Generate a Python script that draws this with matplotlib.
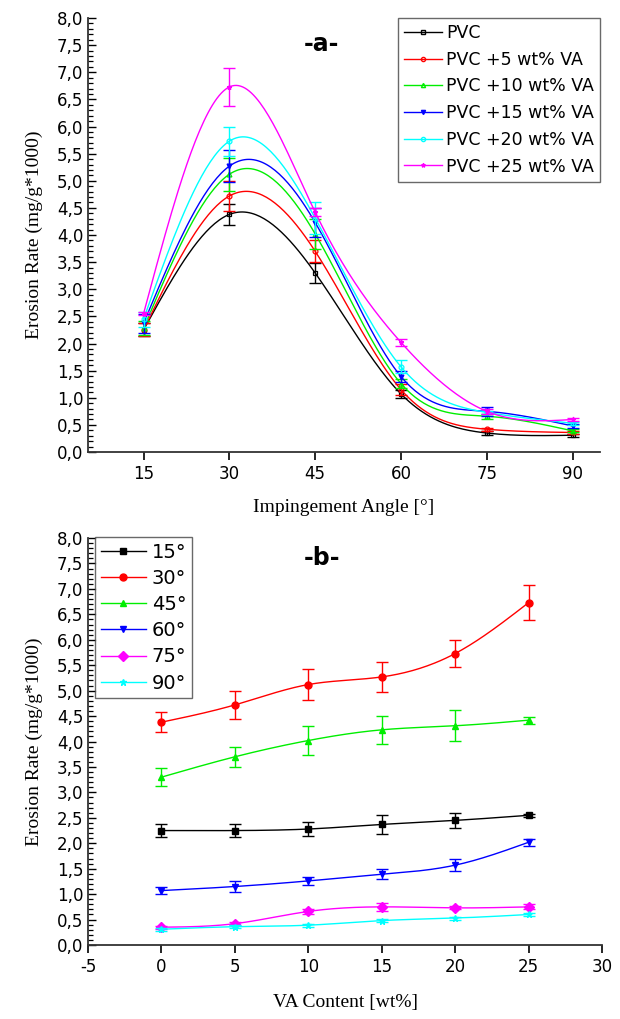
import numpy as np
import matplotlib
matplotlib.use("Agg")
import matplotlib.pyplot as plt
from matplotlib.ticker import MultipleLocator, FuncFormatter

plt.rcParams['axes.unicode_minus'] = False

# data
angles = [15, 30, 45, 60, 75, 90]
va_content = [0, 5, 10, 15, 20, 25]

# erosion rate per angle (rows) vs VA content (columns)
er_15 = [2.25, 2.25, 2.28, 2.37, 2.45, 2.55]
er_30 = [4.38, 4.72, 5.12, 5.27, 5.73, 6.73]
er_45 = [3.30, 3.70, 4.02, 4.23, 4.31, 4.42]
er_60 = [1.07, 1.15, 1.26, 1.39, 1.57, 2.02]
er_75 = [0.35, 0.42, 0.66, 0.75, 0.73, 0.75]
er_90 = [0.31, 0.36, 0.39, 0.48, 0.53, 0.60]

err_15 = [0.12, 0.12, 0.13, 0.18, 0.14, 0.03]
err_30 = [0.20, 0.27, 0.30, 0.30, 0.27, 0.35]
err_45 = [0.18, 0.20, 0.28, 0.27, 0.30, 0.07]
err_60 = [0.07, 0.10, 0.08, 0.10, 0.12, 0.07]
err_75 = [0.03, 0.03, 0.05, 0.08, 0.03, 0.05]
err_90 = [0.03, 0.03, 0.03, 0.03, 0.03, 0.03]

angle_labels = ['15°', '30°', '45°', '60°', '75°', '90°']
blend_labels = ['PVC', 'PVC +5 wt% VA', 'PVC +10 wt% VA', 'PVC +15 wt% VA',
                'PVC +20 wt% VA', 'PVC +25 wt% VA']
colors = ['black', 'red', '#00ee00', 'blue', 'magenta', 'cyan']
a_colors = ['black', 'red', '#00ee00', 'blue', 'cyan', 'magenta']

rates = np.array([er_15, er_30, er_45, er_60, er_75, er_90])
errs = np.array([err_15, err_30, err_45, err_60, err_75, err_90])


def spline(x, y, n=200):
    # natural cubic spline, like Origin's smooth connection
    x = np.asarray(x, float)
    y = np.asarray(y, float)
    k = len(x)
    h = np.diff(x)
    A = np.zeros((k, k))
    r = np.zeros(k)
    A[0, 0] = A[-1, -1] = 1
    for i in range(1, k - 1):
        A[i, i - 1] = h[i - 1]
        A[i, i] = 2 * (h[i - 1] + h[i])
        A[i, i + 1] = h[i]
        r[i] = 6 * ((y[i + 1] - y[i]) / h[i] - (y[i] - y[i - 1]) / h[i - 1])
    M = np.linalg.solve(A, r)
    xs = np.linspace(x[0], x[-1], n)
    idx = np.clip(np.searchsorted(x, xs) - 1, 0, k - 2)
    x0, x1 = x[idx], x[idx + 1]
    hh = x1 - x0
    t0 = x1 - xs
    t1 = xs - x0
    ys = (M[idx] * t0**3 + M[idx + 1] * t1**3) / (6 * hh) \
        + (y[idx] / hh - M[idx] * hh / 6) * t0 \
        + (y[idx + 1] / hh - M[idx + 1] * hh / 6) * t1
    return xs, ys


comma = FuncFormatter(lambda v, p: ('%.1f' % v).replace('.', ','))
serif = 'Liberation Serif'

fig = plt.figure(figsize=(6.2, 10.19), dpi=100)
ax1 = fig.add_axes([0.142, 0.5564, 0.826, 0.4259])
ax2 = fig.add_axes([0.142, 0.0726, 0.829, 0.3994])

# panel a: one curve per blend
a_markers = ['s', 'o', '^', 'v', 'o', '*']
a_fill = ['none', 'none', 'none', 'full', 'none', 'full']
for j in range(len(blend_labels)):
    col = a_colors[j]
    y = rates[:, j]
    e = errs[:, j]
    mfc = 'none' if a_fill[j] == 'none' else col
    xs, ys = spline(angles, y)
    ax1.plot(xs, ys, color=col, lw=1.0)
    ax1.errorbar(angles, y, yerr=e, fmt='none', ecolor=col, elinewidth=1.0,
                 capsize=4, capthick=1.0)
    ax1.plot(angles, y, ls='none', marker=a_markers[j], ms=3.5,
             color=col, mfc=mfc, mew=0.9)
    ax1.plot([], [], color=col, lw=1.0, marker=a_markers[j], ms=3,
             mfc=mfc, label=blend_labels[j])

ax1.set_xlim(5.3, 94.8)
ax1.set_ylim(0, 8)
ax1.set_xticks(angles)
ax1.yaxis.set_major_locator(MultipleLocator(0.5))
ax1.yaxis.set_minor_locator(MultipleLocator(0.1))
ax1.yaxis.set_major_formatter(comma)
ax1.set_xlabel('Impingement Angle [°]', family=serif, fontsize=14, labelpad=11)
ax1.set_ylabel('Erosion Rate (mg/g*1000)', family=serif, fontsize=14, labelpad=10)
ax1.text(0.455, 0.94, '-a-', transform=ax1.transAxes, fontsize=17,
         fontweight='bold', ha='center', va='center')
leg1 = ax1.legend(loc='upper right', bbox_to_anchor=(1.0, 1.0), fontsize=12.5,
                  frameon=True, fancybox=False, edgecolor='#444444',
                  handlelength=2.2, handletextpad=0.25, borderpad=0.35,
                  labelspacing=0.5, borderaxespad=0.0)
leg1.get_frame().set_linewidth(1.0)

# panel b: one curve per angle
b_markers = ['s', 'o', '^', 'v', 'D', '*']
for i in range(len(angles)):
    col = colors[i]
    y = rates[i]
    xs, ys = spline(va_content, y)
    ax2.plot(xs, ys, color=col, lw=1.0)
    ax2.errorbar(va_content, y, yerr=errs[i], fmt='none', ecolor=col,
                 elinewidth=1.0, capsize=4, capthick=1.0)
    ax2.plot(va_content, y, ls='none', marker=b_markers[i], ms=5, color=col)
    ax2.plot([], [], color=col, lw=1.0, marker=b_markers[i], ms=5,
             label=angle_labels[i])

ax2.set_xlim(-5, 30)
ax2.set_ylim(0, 8)
ax2.xaxis.set_major_locator(MultipleLocator(5))
ax2.yaxis.set_major_locator(MultipleLocator(0.5))
ax2.yaxis.set_minor_locator(MultipleLocator(0.1))
ax2.yaxis.set_major_formatter(comma)
ax2.set_xlabel('VA Content [wt%]', family=serif, fontsize=14, labelpad=13)
ax2.set_ylabel('Erosion Rate (mg/g*1000)', family=serif, fontsize=14, labelpad=10)
ax2.text(0.455, 0.95, '-b-', transform=ax2.transAxes, fontsize=17,
         fontweight='bold', ha='center', va='center')
leg2 = ax2.legend(loc='upper left', bbox_to_anchor=(0.014, 1.003), fontsize=14,
                  frameon=True, fancybox=False, edgecolor='#444444',
                  handlelength=2.3, handletextpad=0.3, borderpad=0.3,
                  labelspacing=0.37, borderaxespad=0.0)
leg2.get_frame().set_linewidth(1.0)

for ax in (ax1, ax2):
    for s in ('top', 'right'):
        ax.spines[s].set_visible(False)
    for s in ('left', 'bottom'):
        ax.spines[s].set_linewidth(1.3)
        ax.spines[s].set_color('#333333')
    ax.tick_params(axis='y', which='major', direction='in', length=6,
                   width=1.0, labelsize=12)
    ax.tick_params(axis='y', which='minor', direction='in', length=3.5,
                   width=0.9)
    ax.tick_params(axis='x', which='major', direction='out', length=6,
                   width=1.2, labelsize=12)

fig.savefig('out.png', dpi=100)
